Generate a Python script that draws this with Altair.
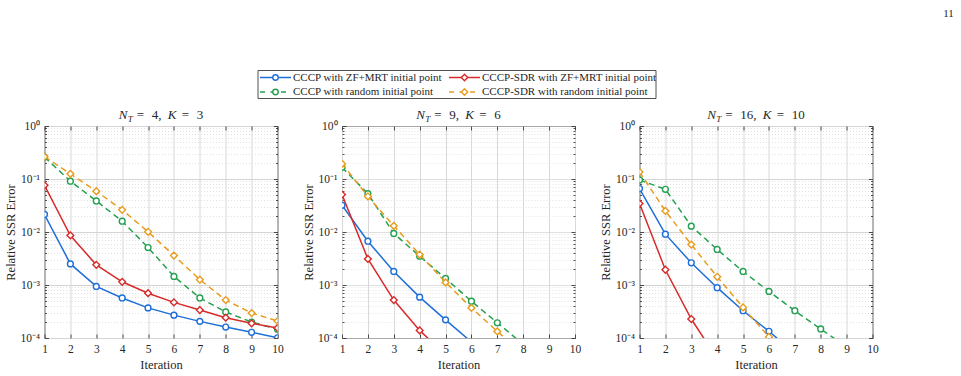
import altair as alt
import pandas as pd

# ---------------- data ----------------
iterations = list(range(1, 11))
series_names = [
    "CCCP with ZF+MRT initial point",
    "CCCP with random initial point",
    "CCCP-SDR with ZF+MRT initial point",
    "CCCP-SDR with random initial point",
]
series_colors = ["#1F6FD8", "#25A050", "#D82A2A", "#E89C1E"]
series_dashed = [False, True, False, True]
series_shapes = ["circle", "circle", "diamond", "diamond"]

panel_nt = [4, 9, 16]
panel_k = [3, 6, 10]

# N_T = 4, K = 3
p1_cccp_zf = [0.0214, 0.0025, 9.4e-4, 5.7e-4, 3.7e-4, 2.7e-4, 2.06e-4, 1.61e-4, 1.28e-4, 1.01e-4]
p1_cccp_rand = [0.26, 0.091, 0.0386, 0.016, 0.0051, 1.45e-3, 5.7e-4, 3.1e-4, 2.0e-4, 1.46e-4]
p1_sdr_zf = [0.076, 0.0086, 0.0024, 1.15e-3, 7.0e-4, 4.7e-4, 3.37e-4, 2.42e-4, 1.89e-4, 1.55e-4]
p1_sdr_rand = [0.264, 0.125, 0.0588, 0.0262, 0.0101, 3.6e-3, 1.26e-3, 5.2e-4, 2.96e-4, 2.09e-4]

# N_T = 9, K = 6
p2_cccp_zf = [0.032, 6.7e-3, 1.8e-3, 5.9e-4, 2.2e-4, 8.4e-5]
p2_cccp_rand = [0.166, 0.053, 9.4e-3, 3.5e-3, 1.33e-3, 4.94e-4, 1.94e-4, 7.6e-5]
p2_sdr_zf = [0.0508, 3.1e-3, 5.2e-4, 1.39e-4, 4.8e-5]
p2_sdr_rand = [0.194, 0.047, 0.0131, 3.76e-3, 1.12e-3, 3.7e-4, 1.33e-4, 4.9e-5]

# N_T = 16, K = 10
p3_cccp_zf = [0.066, 9.1e-3, 2.62e-3, 8.9e-4, 3.27e-4, 1.34e-4, 5.1e-5]
p3_cccp_rand = [0.096, 0.064, 0.0129, 4.68e-3, 1.8e-3, 7.57e-4, 3.27e-4, 1.48e-4, 6.8e-5]
p3_sdr_zf = [0.0344, 1.94e-3, 2.28e-4, 4.1e-5]
p3_sdr_rand = [0.136, 0.025, 5.8e-3, 1.43e-3, 3.78e-4, 1.05e-4, 2.9e-5]

panels_data = [
    [p1_cccp_zf, p1_cccp_rand, p1_sdr_zf, p1_sdr_rand],
    [p2_cccp_zf, p2_cccp_rand, p2_sdr_zf, p2_sdr_rand],
    [p3_cccp_zf, p3_cccp_rand, p3_sdr_zf, p3_sdr_rand],
]

y_major = [1e-4, 1e-3, 1e-2, 1e-1, 1.0]
y_minor = [m * 10.0 ** e for e in range(-4, 0) for m in range(2, 10)]
y_ticks = sorted(y_major + y_minor)

# ---------------- styling ----------------
FONT = "Liberation Serif"
INK = "#262626"
W, H = 233, 212
MAJOR = "abs(log(datum.value)/LN10 - round(log(datum.value)/LN10)) < 0.001"
LABEL_EXPR = (MAJOR + " ? ['10⁻⁴','10⁻³','10⁻²','10⁻¹','10⁰']"
              "[round(log(datum.value)/LN10)+4] : ''")

x_scale = alt.Scale(domain=[1, 10], nice=False, zero=False)
y_scale = alt.Scale(type="log", domain=[1e-4, 1], nice=False)

x_main = alt.Axis(
    values=iterations, title="Iteration", grid=True, gridColor="#d8d8d8",
    ticks=False, domain=False, labelFont=FONT, labelFontSize=11.5, labelColor=INK,
    labelPadding=5, labelFlush=False, labelOverlap=False, titleFont=FONT,
    titleFontSize=12.5, titleFontWeight="normal", titleColor=INK, titlePadding=4,
)
y_main = alt.Axis(
    values=y_ticks, title="Relative SSR Error", grid=True,
    gridColor={"condition": {"test": MAJOR, "value": "#d4d4d4"}, "value": "#e2e2e2"},
    gridDash={"condition": {"test": MAJOR, "value": [1, 0]}, "value": [1, 2]},
    ticks=False, domain=False, labelExpr=LABEL_EXPR, labelFont=FONT,
    labelFontSize=11.5, labelColor=INK, labelPadding=5, labelFlush=False,
    labelOverlap=False, titleFont=FONT, titleFontSize=12.5,
    titleFontWeight="normal", titleColor=INK, titlePadding=2,
)


def tick_axis(orient, values, size):
    # outward ticks pulled inside the frame -> MATLAB-style inward ticks
    return alt.Axis(orient=orient, values=values, title=None, labels=False,
                    grid=False, domain=False, ticks=True, tickSize=size,
                    offset=-size, tickColor=INK, tickWidth=0.8)


x_axes = [x_main, tick_axis("bottom", iterations, 4), tick_axis("top", iterations, 4)]
y_axes = [y_main, tick_axis("left", y_major, 4), tick_axis("left", y_minor, 2),
          tick_axis("right", y_major, 4), tick_axis("right", y_minor, 2)]


def title_layers(nt, k):
    nt_s, k_s = f"{nt},", f"{k}"
    pieces = [
        ("N", "italic", 13, 0, 9),
        ("T", "italic", 9, 3.5, 9),
        ("=", "normal", 13, 0, 15),
        (nt_s, "normal", 13, 0, 6.5 * len(str(nt)) + 9.5),
        ("K", "italic", 13, 0, 14),
        ("=", "normal", 13, 0, 15),
        (k_s, "normal", 13, 0, 6.5 * len(k_s)),
    ]
    total = sum(p[4] for p in pieces)
    x = W / 2 - total / 2
    out = []
    for txt, style, size, dy, w in pieces:
        out.append(
            alt.Chart(alt.Data(values=[{"t": txt}]))
            .mark_text(font=FONT, fontStyle=style, fontSize=size, align="left",
                       baseline="alphabetic", color=INK)
            .encode(text="t:N", x=alt.value(x), y=alt.value(-7.5 + dy))
        )
        x += w
    return out


def panel(vals_list, nt, k):
    layers = []
    n = 0
    for i, vals in enumerate(vals_list):
        df = pd.DataFrame({"iter": iterations[: len(vals)], "val": vals,
                           "series": series_names[i]})
        for kind in ("line", "point"):
            xa = x_axes[n] if n < len(x_axes) else None
            ya = y_axes[n] if n < len(y_axes) else None
            n += 1
            base = alt.Chart(df).encode(
                x=alt.X("iter:Q", scale=x_scale, axis=xa),
                y=alt.Y("val:Q", scale=y_scale, axis=ya),
            )
            if kind == "line":
                line_kw = dict(color=series_colors[i], strokeWidth=1.5, clip=True)
                if series_dashed[i]:
                    line_kw["strokeDash"] = [6, 4]
                layers.append(base.mark_line(**line_kw))
            else:
                layers.append(base.mark_point(
                    shape=series_shapes[i], filled=True, fill="white",
                    stroke=series_colors[i], strokeWidth=1.4, opacity=1,
                    size=34 if series_shapes[i] == "circle" else 46, clip=True))
    layers += title_layers(nt, k)
    return (
        alt.layer(*layers)
        .resolve_axis(x="independent", y="independent")
        .properties(width=W, height=H,
                    view=alt.ViewBackground(stroke=INK, strokeWidth=1))
    )


# ---------------- legend (own view, origin = left edge of first plot) ----------------
LW, LH = 912, 100
BOX = (213.5, 611.5, 69.5, 97.5)
COL_X = [215.5, 404.5]
ROW_Y = [76.5, 91]
leg_layers = [
    alt.Chart(alt.Data(values=[{"p": "11"}]))
    .mark_text(font=FONT, fontSize=11, color=INK, align="center", baseline="middle")
    .encode(text="p:N", x=alt.value(904), y=alt.value(13)),
    alt.Chart(alt.Data(values=[{"b": 1}]))
    .mark_rect(fill="white", stroke=INK, strokeWidth=0.8)
    .encode(x=alt.value(BOX[0]), x2=alt.value(BOX[1]), y=alt.value(BOX[2]), y2=alt.value(BOX[3])),
]
for i, name in enumerate(series_names):
    col, row = i // 2, i % 2
    x0, yy = COL_X[col], ROW_Y[row]
    d = alt.Data(values=[{"label": name}])
    rule_kw = dict(color=series_colors[i], strokeWidth=1.5)
    if series_dashed[i]:
        rule_kw["strokeDash"] = [5, 5.5]
    leg_layers.append(alt.Chart(d).mark_rule(**rule_kw).encode(
        x=alt.value(x0), x2=alt.value(x0 + 31), y=alt.value(yy)))
    leg_layers.append(alt.Chart(d).mark_point(
        shape=series_shapes[i], filled=True, fill="white", stroke=series_colors[i],
        strokeWidth=1.4, opacity=1, size=30 if series_shapes[i] == "circle" else 40,
    ).encode(x=alt.value(x0 + 15.5), y=alt.value(yy)))
    leg_layers.append(alt.Chart(d).mark_text(
        font=FONT, fontSize=11, color=INK, align="left", baseline="middle"
    ).encode(text="label:N", x=alt.value(x0 + 33), y=alt.value(yy)))

legend = alt.layer(*leg_layers).properties(
    width=LW, height=LH, view=alt.ViewBackground(stroke="transparent")
)

panels = alt.hconcat(
    *[panel(panels_data[j], panel_nt[j], panel_k[j]) for j in range(3)], spacing=16.5
)

chart = alt.vconcat(legend, panels, spacing=6).properties(
    padding={"left": 3.5, "top": 0, "right": 0, "bottom": 0},
    background="white",
).configure_view(strokeWidth=1)

chart.save("out.html", embed_options={"renderer": "svg", "actions": False})
